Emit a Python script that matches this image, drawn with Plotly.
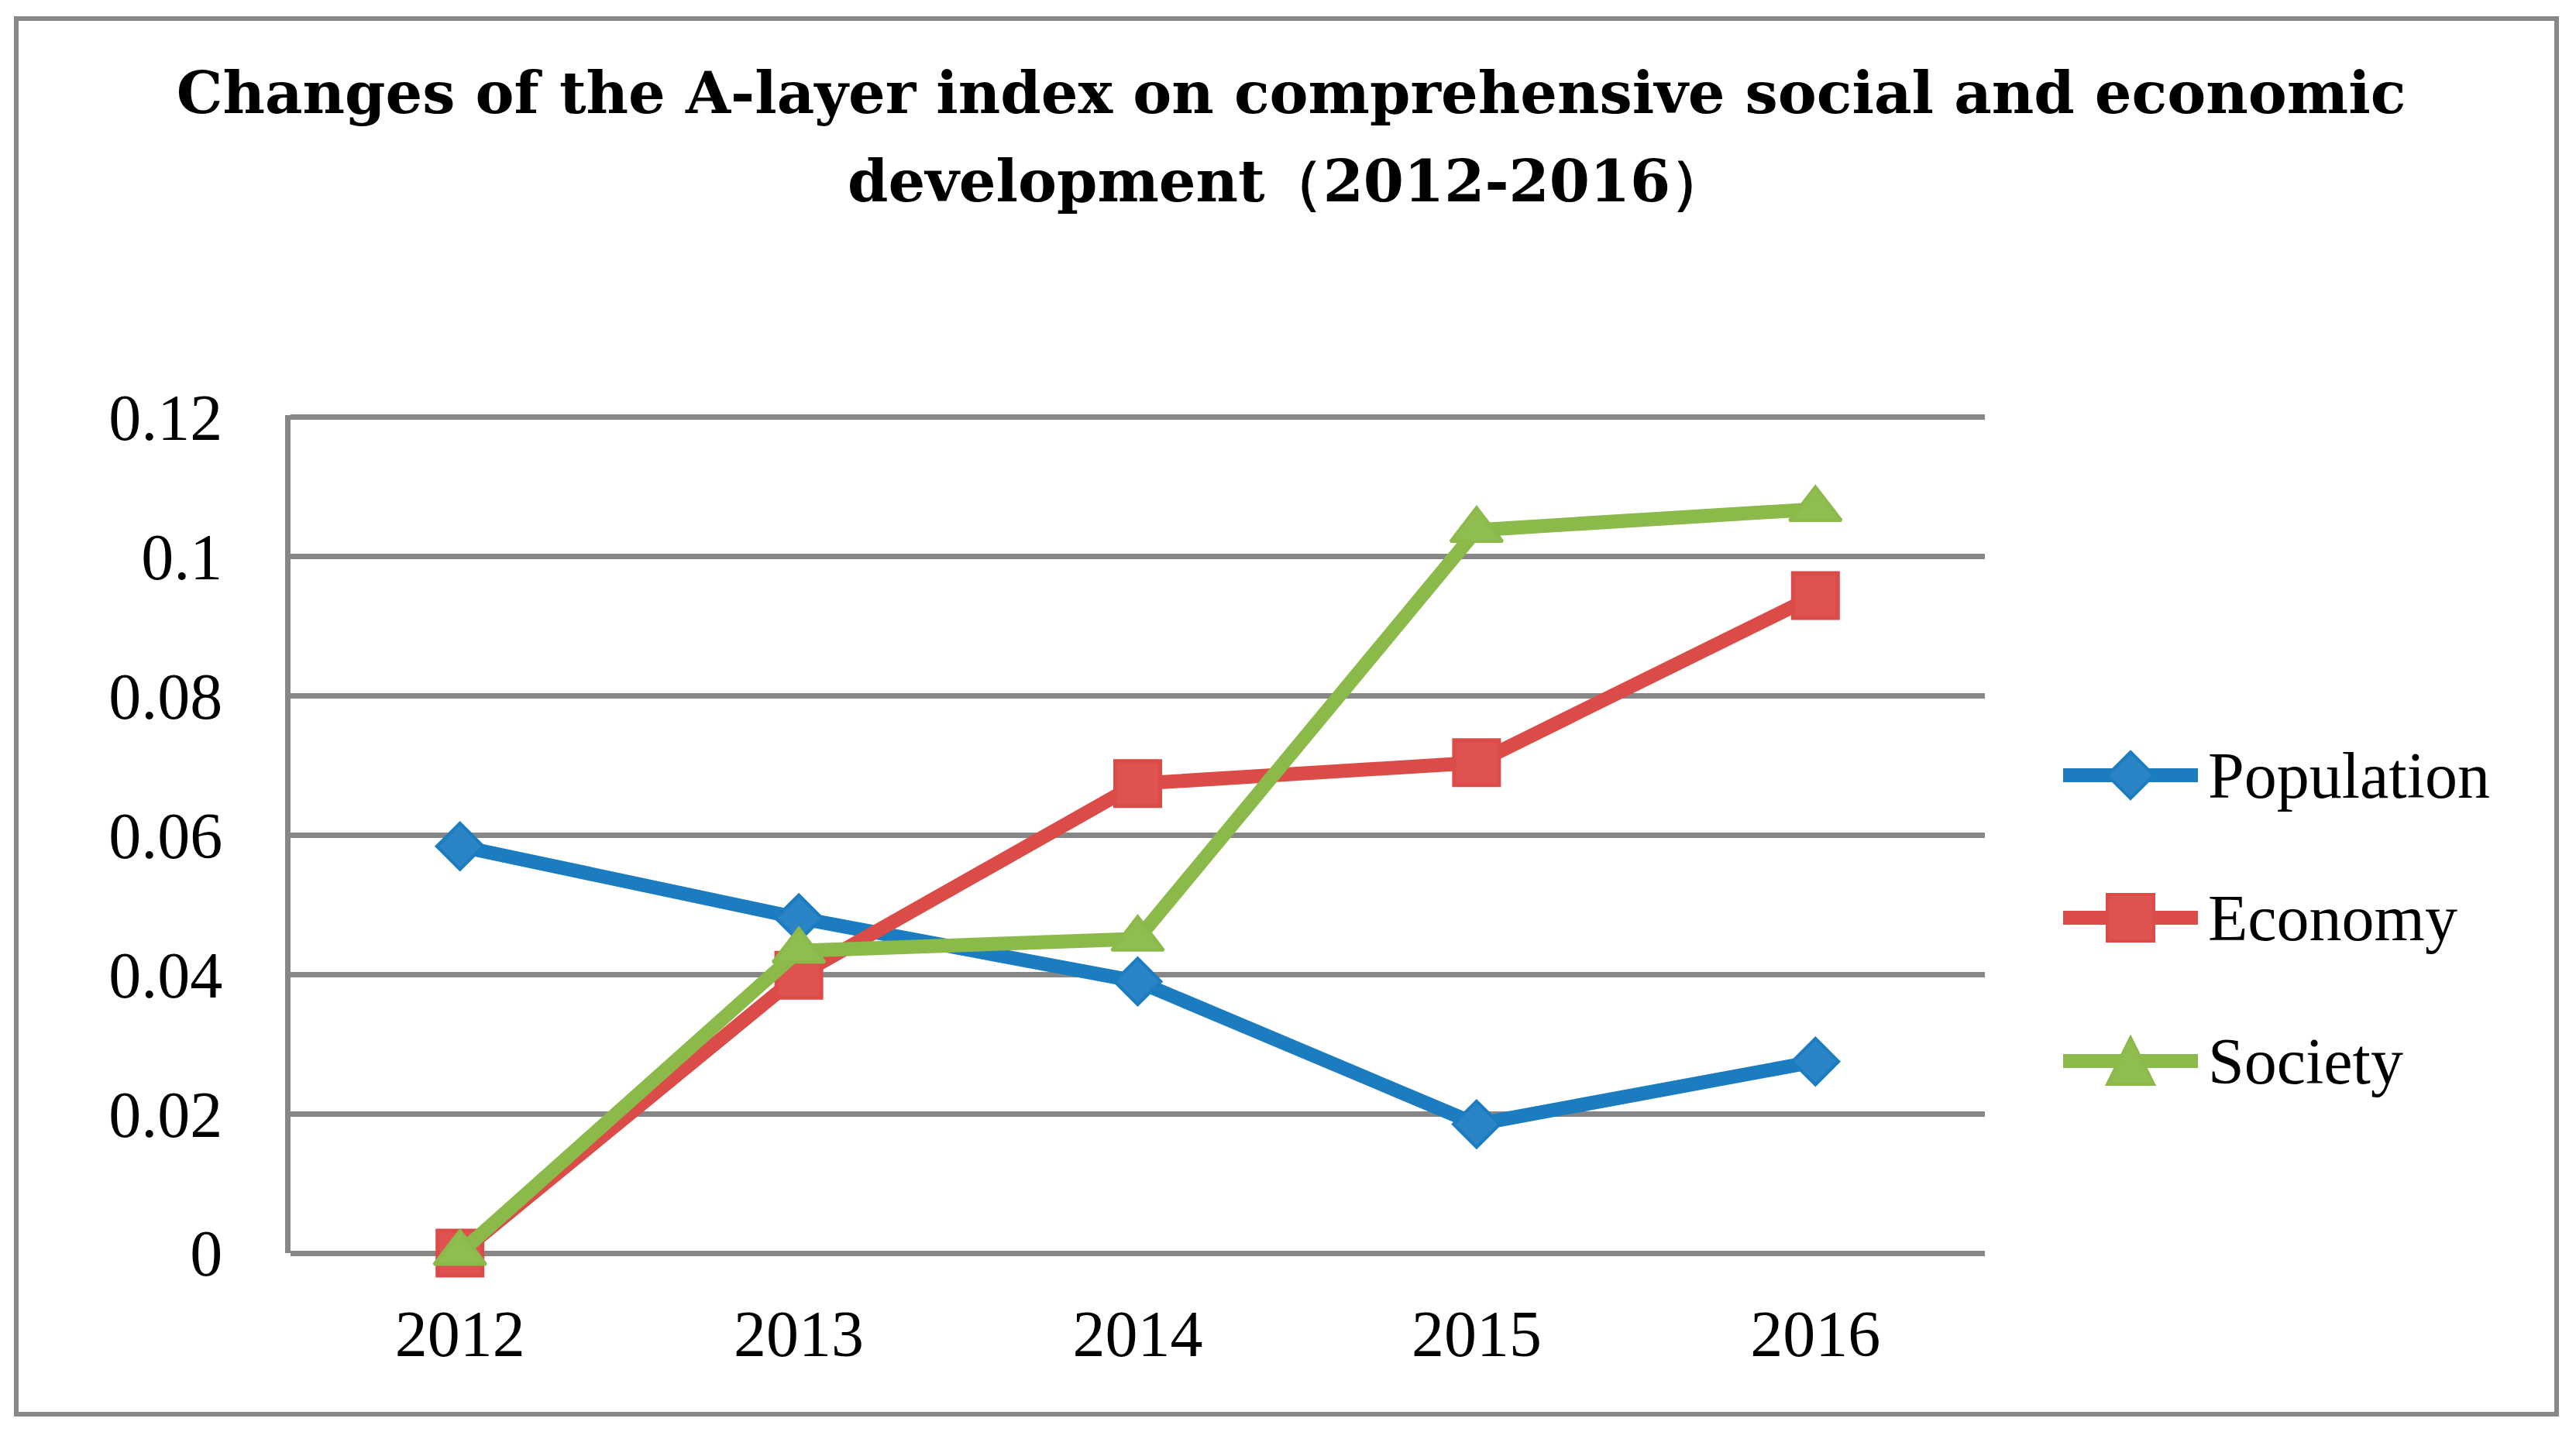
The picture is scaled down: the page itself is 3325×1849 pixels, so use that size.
import plotly.graph_objects as go

years = ["2012", "2013", "2014", "2015", "2016"]
population = [0.0584, 0.0481, 0.0390, 0.0185, 0.0275]
economy = [0.0, 0.0399, 0.0674, 0.0704, 0.0944]
society = [0.0, 0.0434, 0.0451, 0.1038, 0.1068]
y_ticks = [0, 0.02, 0.04, 0.06, 0.08, 0.1, 0.12]
y_tick_text = ["0", "0.02", "0.04", "0.06", "0.08", "0.1", "0.12"]
series_names = ["Population", "Economy", "Society"]
title_lines = ["Changes of the A-layer index on comprehensive social and economic",
               "development（2012-2016）"]

styles = {
    "Population": dict(lc="#1b7dc0", mc="#2a84c5", sym="diamond", ms=46, mw=4),
    "Economy": dict(lc="#db4b48", mc="#de524f", sym="square", ms=58, mw=5),
    "Society": dict(lc="#8bba4b", mc="#8fbd4f", sym="triangle-up", ms=58, mw=4),
}
values = {"Population": population, "Economy": economy, "Society": society}

FONT = "Liberation Serif"
TITLE_FONT = "DejaVu Serif"
OFF = 8  # page body margin offset
W, H = 3325 - OFF, 1849 - OFF
L, R, T, B = 375 - OFF, 2562 - OFF, 536 - OFF, 1618 - OFF

fig = go.Figure()
for name in series_names:
    s = styles[name]
    fig.add_trace(go.Scatter(
        x=years, y=values[name], name=name, mode="lines+markers",
        line=dict(color=s["lc"], width=18),
        marker=dict(symbol=s["sym"], size=s["ms"], color=s["mc"],
                    line=dict(color=s["lc"], width=s["mw"])),
        cliponaxis=False, showlegend=False,
    ))


def px_x(px):
    return (px - OFF - L) / (R - L)


def px_y(py):
    return (B - (py - OFF)) / (B - T)


fig.update_layout(
    width=W, height=H, autosize=False,
    margin=dict(l=L, r=W - R, t=T, b=H - B),
    paper_bgcolor="white", plot_bgcolor="white",
    font=dict(family=FONT, size=84, color="black"),
    title=dict(
        text="<b>" + title_lines[0] + "</b>",
        x=0.5, xref="container", xanchor="center",
        y=1 - 85 / H, yref="container", yanchor="top",
        font=dict(family=TITLE_FONT, size=75, color="black"),
    ),
    xaxis=dict(
        type="category", range=[-0.5, 4.5], showgrid=False, showline=False,
        zeroline=False, ticks="", ticklabelstandoff=48,
        tickfont=dict(family=FONT, size=84),
    ),
    yaxis=dict(
        range=[0, 0.1203], tickvals=y_ticks, ticktext=y_tick_text,
        showgrid=True, gridcolor="#878787", gridwidth=7,
        zeroline=True, zerolinecolor="#878787", zerolinewidth=7,
        showline=True, linecolor="#878787", linewidth=7,
        ticks="", ticklabelstandoff=64,
        tickfont=dict(family=FONT, size=84),
    ),
    showlegend=False,
)

# second title line
fig.add_annotation(text="<b>" + title_lines[1] + "</b>", xref="paper", yref="paper",
                   x=px_x(1662), y=px_y(234), xanchor="center", yanchor="middle",
                   showarrow=False, font=dict(family=TITLE_FONT, size=75, color="black"))

# outer chart border
fig.add_shape(
    type="rect", xref="paper", yref="paper",
    x0=px_x(21), x1=px_x(3300), y0=px_y(1826), y1=px_y(24),
    line=dict(color="#888888", width=6), fillcolor="rgba(0,0,0,0)", layer="below",
)

# legend (drawn as layout decoration)
leg_y = [1001, 1185, 1370]
lx0, lx1, lcx, tx = 2663, 2837, 2750, 2848
for name, cy in zip(series_names, leg_y):
    s = styles[name]
    fig.add_shape(type="line", xref="paper", yref="paper",
                  x0=px_x(lx0), x1=px_x(lx1), y0=px_y(cy), y1=px_y(cy),
                  line=dict(color=s["lc"], width=18))
    h = 30
    if s["sym"] == "diamond":
        path = (f"M {px_x(lcx)} {px_y(cy - h)} L {px_x(lcx + h)} {px_y(cy)} "
                f"L {px_x(lcx)} {px_y(cy + h)} L {px_x(lcx - h)} {px_y(cy)} Z")
    elif s["sym"] == "square":
        path = (f"M {px_x(lcx - h)} {px_y(cy - h)} L {px_x(lcx + h)} {px_y(cy - h)} "
                f"L {px_x(lcx + h)} {px_y(cy + h)} L {px_x(lcx - h)} {px_y(cy + h)} Z")
    else:
        path = (f"M {px_x(lcx)} {px_y(cy - h)} L {px_x(lcx + h)} {px_y(cy + h)} "
                f"L {px_x(lcx - h)} {px_y(cy + h)} Z")
    fig.add_shape(type="path", xref="paper", yref="paper", path=path,
                  fillcolor=s["mc"], line=dict(color=s["lc"], width=4))
    fig.add_annotation(text=name, xref="paper", yref="paper",
                       x=px_x(tx), y=px_y(cy), xanchor="left", yanchor="middle",
                       showarrow=False, font=dict(family=FONT, size=84, color="black"))

fig.write_html("out.html")
